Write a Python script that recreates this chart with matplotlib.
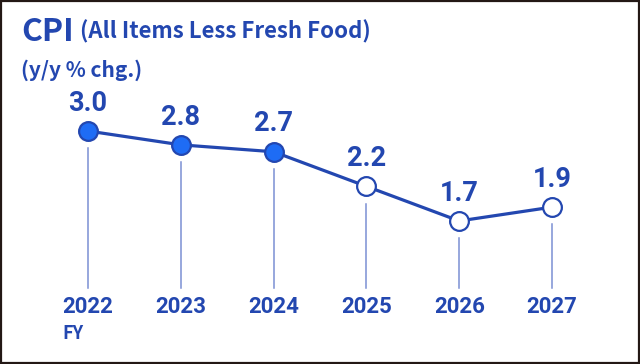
import matplotlib
matplotlib.use("Agg")
import matplotlib.pyplot as plt
from matplotlib.patches import Rectangle

# data
years = ["2022", "2023", "2024", "2025", "2026", "2027"]
cpi = [3.0, 2.8, 2.7, 2.2, 1.7, 1.9]
actual = [True, True, True, False, False, False]   # filled = actual, hollow = forecast

BLUE = "#2347b0"
FILL = "#1e6cf5"
STEM = "#7b8fd3"
FONT = ["Noto Sans CJK JP", "DejaVu Sans"]
NUM = ["Roboto", "DejaVu Sans"]

fig = plt.figure(figsize=(6.4, 3.64), dpi=100)
ax = fig.add_axes([0, 0, 1, 1])
x = list(range(len(years)))
# axis limits chosen so the chart sits where it does in the reference
ax.set_xlim(-0.948, 5.948)
ax.set_ylim(-0.367, 4.893)
ax.axis("off")

# frame
fig.patches.append(Rectangle((0.002, 0.003), 0.996, 0.994, transform=fig.transFigure,
                             fill=False, ec="#231815", lw=1.6))

# stems under each point
for xi, v in zip(x, cpi):
    ax.plot([xi, xi], [0.731, v - 0.25], color=STEM, lw=1.1, zorder=1)

ax.plot(x, cpi, color=BLUE, lw=2.3, zorder=2)
for xi, v, a in zip(x, cpi, actual):
    ax.plot(xi, v, "o", ms=13.5, mfc=FILL if a else "white", mec=BLUE, mew=1.6, zorder=3)
    ax.annotate(f"{v:.1f}", (xi, v), xytext=(0, 20), textcoords="offset points",
                ha="center", va="center", fontsize=19.5, fontweight="bold",
                color=BLUE, family=NUM)

for xi, yr in zip(x, years):
    ax.text(xi, 0.45, yr, ha="center", va="center", fontsize=16,
            fontweight="bold", color=BLUE, family=NUM)
ax.text(-0.28, 0.08, "FY", ha="left", va="center", fontsize=13,
        fontweight="bold", color=BLUE, family=FONT)

fig.text(21 / 640, 1 - 32 / 364, "CPI", ha="left", va="center", fontsize=23,
         fontweight="bold", color=BLUE, family=FONT)
fig.text(80 / 640, 1 - 32 / 364, "(All Items Less Fresh Food)", ha="left", va="center",
         fontsize=16, fontweight="bold", color=BLUE, family=FONT)
fig.text(21 / 640, 1 - 70 / 364, "(y/y % chg.)", ha="left", va="center",
         fontsize=15, fontweight="bold", color=BLUE, family=FONT)

fig.savefig("out.png", dpi=100)
